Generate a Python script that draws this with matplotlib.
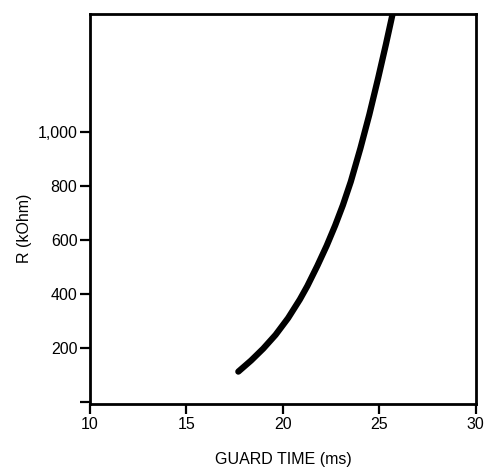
import matplotlib
matplotlib.use("Agg")
import matplotlib.pyplot as plt

plt.rcParams['font.family'] = ['Liberation Sans', 'DejaVu Sans']

# Curve data
guard_time = [17.69, 18.35, 18.98, 19.62, 20.27, 20.88, 21.27, 21.79, 22.27,
              22.71, 23.11, 23.52, 24.02, 24.48, 24.94, 25.34, 25.70]
resistance = [112, 153, 197, 248, 310, 379, 429, 504, 578,
              653, 728, 815, 939, 1063, 1199, 1323, 1440]

x_ticks = [10, 15, 20, 25, 30]
x_tick_labels = ['10', '15', '20', '25', '30']
y_ticks = [0, 200, 400, 600, 800, 1000]
y_tick_labels = ['', '200', '400', '600', '800', '1,000']

fig = plt.figure(figsize=(4.89, 4.72), dpi=100)
ax = fig.add_axes([0.184, 0.144, 0.789, 0.826])

ax.plot(guard_time, resistance, color='black', linewidth=4.5,
        solid_capstyle='round', solid_joinstyle='round', clip_on=True)

ax.set_xlim(10, 30)
ax.set_ylim(-8, 1435)

ax.set_xticks(x_ticks)
ax.set_xticklabels(x_tick_labels)
ax.set_yticks(y_ticks)
ax.set_yticklabels(y_tick_labels)

for sp in ax.spines.values():
    sp.set_linewidth(2.0)
    sp.set_color('black')

ax.tick_params(axis='both', direction='out', length=7, width=1.6,
               labelsize=11.5, pad=2, colors='black')

ax.set_xlabel('GUARD TIME (ms)', fontsize=11.5, labelpad=15)
ax.set_ylabel('R (kOhm)', fontsize=11.5)
ax.yaxis.set_label_coords(-0.150, 0.45)

fig.savefig('out.png', dpi=100, facecolor='white')
